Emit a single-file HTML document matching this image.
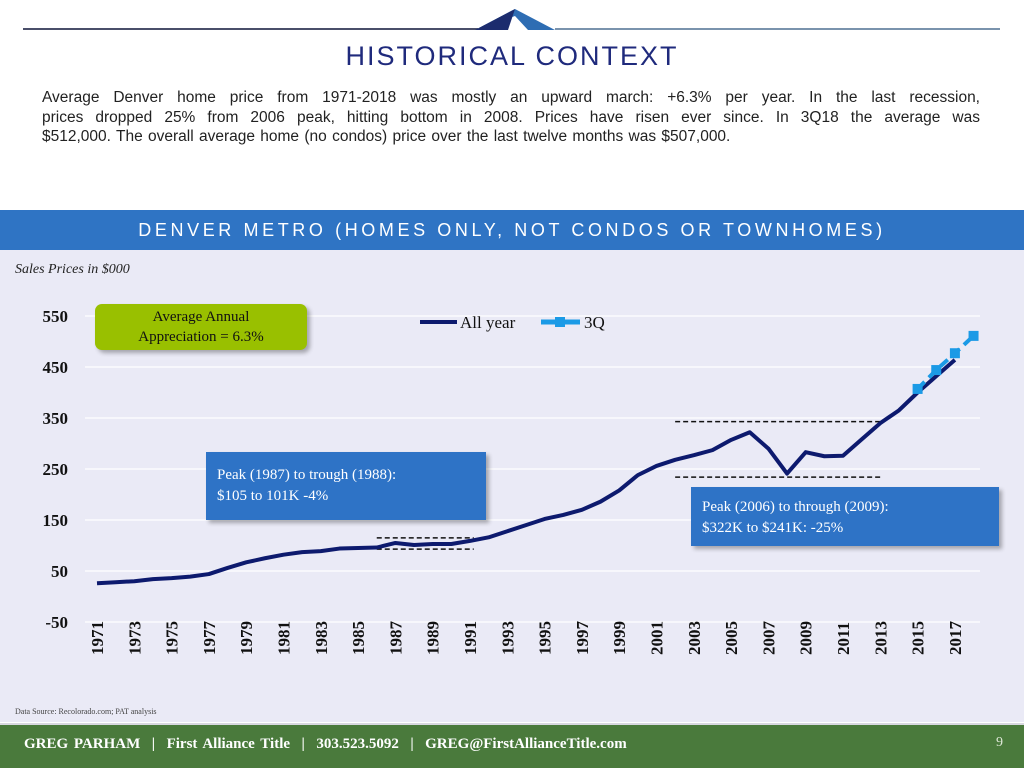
<!DOCTYPE html>
<html><head><meta charset="utf-8"><style>
body{margin:0;width:1024px;height:768px;position:relative;overflow:hidden;background:#fff;font-family:"Liberation Sans",sans-serif}
.abs{position:absolute}
.pl{display:block;text-align:justify;text-align-last:justify;white-space:nowrap}
</style></head><body>
<div class="abs" style="left:23px;top:28px;width:455px;height:2px;background:#4a4f6a"></div>
<div class="abs" style="left:555px;top:28px;width:445px;height:2px;background:#7a93ad"></div>
<svg class="abs" style="left:470px;top:6px" width="90" height="26"><polygon points="5,24 45,3 85,24 58,24 45,10" fill="#2e6db3"/><polygon points="5,24 45,3 38,24" fill="#1c2c6e"/></svg>
<div class="abs" style="left:0;width:1024px;top:41px;text-align:center;font-size:27px;letter-spacing:2px;color:#1f2a7c">HISTORICAL CONTEXT</div>
<div class="abs" style="left:42px;top:88px;width:938px;font-size:15.5px;line-height:19.5px;color:#222">
<span class="pl" style="white-space:normal">Average Denver home price from 1971-2018 was mostly an upward march: +6.3% per year. In the last recession,</span>
<span class="pl" style="white-space:normal">prices dropped 25% from 2006 peak, hitting bottom in 2008. Prices have risen ever since. In 3Q18 the average was</span>
<span style="display:block;word-spacing:1px">$512,000. The overall average home (no condos) price over the last twelve months was $507,000.</span></div>
<div class="abs" style="left:0;top:210px;width:1024px;height:40px;background:#2f74c4;color:#fff;font-size:18px;letter-spacing:3.6px;text-align:center;line-height:40px">DENVER METRO (HOMES ONLY, NOT CONDOS OR TOWNHOMES)</div>
<div class="abs" style="left:0;top:250px;width:1024px;height:472px;background:#eaeaf6"></div>
<div class="abs" style="left:15px;top:262px;font-family:'Liberation Serif',serif;font-style:italic;font-size:14px;color:#222">Sales Prices in $000</div>
<svg id="chart" class="abs" style="left:0;top:250px" width="1024" height="472"></svg>
<div class="abs" style="left:95px;top:304px;width:212px;height:46px;background:#99c000;border-radius:7px;box-shadow:3px 3px 4px rgba(0,0,0,0.3);text-align:center;font-family:'Liberation Serif',serif;font-size:15px;line-height:20px;color:#111;padding-top:3px;box-sizing:border-box">Average Annual<br>Appreciation = 6.3%</div>
<div class="abs" style="left:206px;top:452px;width:280px;height:68px;background:#2e73c6;box-shadow:3px 3px 4px rgba(0,0,0,0.3);font-family:'Liberation Serif',serif;font-size:15px;line-height:21px;color:#fff;padding:13px 0 0 11px;box-sizing:border-box">Peak (1987) to trough (1988):<br>$105 to 101K -4%</div>
<div class="abs" style="left:691px;top:487px;width:308px;height:59px;background:#2e73c6;box-shadow:3px 3px 4px rgba(0,0,0,0.3);font-family:'Liberation Serif',serif;font-size:15px;line-height:21px;color:#fff;padding:10px 0 0 11px;box-sizing:border-box">Peak (2006) to through (2009):<br>$322K to $241K: -25%</div>
<div class="abs" style="left:15px;top:707px;font-family:'Liberation Serif',serif;font-size:8px;color:#444">Data Source: Recolorado.com; PAT analysis</div>
<div class="abs" style="left:0;top:723px;width:1024px;height:45px;background:#4a7a3c;border-top:2px solid #d8d8e0;box-sizing:border-box"></div>
<div class="abs" style="left:24px;top:736px;font-family:'Liberation Serif',serif;font-weight:bold;font-size:15px;color:#fff;word-spacing:2px;white-space:pre">GREG PARHAM  |  First Alliance Title  |  303.523.5092  |  GREG@FirstAllianceTitle.com</div>
<div class="abs" style="left:996px;top:735px;font-family:'Liberation Serif',serif;font-size:14px;color:#dfe8d8">9</div>
<script>
const years=[1971,1972,1973,1974,1975,1976,1977,1978,1979,1980,1981,1982,1983,1984,1985,1986,1987,1988,1989,1990,1991,1992,1993,1994,1995,1996,1997,1998,1999,2000,2001,2002,2003,2004,2005,2006,2007,2008,2009,2010,2011,2012,2013,2014,2015,2016,2017];
const allYear=[26,28,30,34,36,39,44,56,67,75,82,87,89,94,95,96,105,101,103,103,109,116,128,140,152,160,170,186,208,238,256,268,277,287,307,322,290,241,283,275,276,308,340,365,400,432,464];
const q3Years=[2015,2016,2017,2018];
const q3Values=[407,444,477,511];
const yTicks=[-50,50,150,250,350,450,550];
const xTickYears=[1971,1973,1975,1977,1979,1981,1983,1985,1987,1989,1991,1993,1995,1997,1999,2001,2003,2005,2007,2009,2011,2013,2015,2017];
const svg=document.getElementById('chart');const NS='http://www.w3.org/2000/svg';
const X=y=>97+(y-1971)*18.65;
const Y=v=>372-(v+50)*0.51;
function mk(t,a){const e=document.createElementNS(NS,t);for(const k in a)e.setAttribute(k,a[k]);svg.appendChild(e);return e;}
yTicks.forEach(v=>{
 const g=mk('line',{x1:85,x2:980,y1:Y(v),y2:Y(v),stroke:'#fff','stroke-width':1.2});
 
 
 const t=mk('text',{x:68,y:Y(v)+6,'text-anchor':'end','font-family':'Liberation Serif, serif','font-size':17,'font-weight':'bold',fill:'#111'});t.textContent=v;
 
 
});
xTickYears.forEach(yr=>{
 const t=mk('text',{transform:`translate(${X(yr)+6},${405}) rotate(-90)`,'font-family':'Liberation Serif, serif','font-size':17,'font-weight':'bold',fill:'#111'});t.textContent=yr;
 
 
});
function dash(y1,y2,v){const l=mk('line',{x1:X(y1),x2:X(y2),y1:Y(v),y2:Y(v),stroke:'#111','stroke-width':1.5,'stroke-dasharray':'5,3'});
 
 }
dash(1986,1991.2,115);dash(1986,1991.2,93);dash(2002,2013.1,343);dash(2002,2013.1,234);
const p=mk('polyline',{points:years.map((y,i)=>X(y)+','+Y(allYear[i])).join(' '),fill:'none',stroke:'#0d1a6e','stroke-width':4,'stroke-linejoin':'round'});


const q=mk('polyline',{points:q3Years.map((y,i)=>X(y)+','+Y(q3Values[i])).join(' '),fill:'none',stroke:'#1b9ae6','stroke-width':4,'stroke-dasharray':'10,6'});


q3Years.forEach((y,i)=>{const r=mk('rect',{x:X(y)-5,y:Y(q3Values[i])-5,width:10,height:10,fill:'#1b9ae6'});
 
 });
const l1=mk('line',{x1:420,x2:457,y1:72,y2:72,stroke:'#0d1a6e','stroke-width':4});


const t1=mk('text',{x:460,y:78,'font-family':'Liberation Serif, serif','font-size':17,fill:'#111'});t1.textContent='All year';


const l2=mk('line',{x1:541,x2:580,y1:72,y2:72,stroke:'#1b9ae6','stroke-width':5});


const r2=mk('rect',{x:555,y:67,width:10,height:10,fill:'#1b9ae6'});


const t2=mk('text',{x:584,y:78,'font-family':'Liberation Serif, serif','font-size':17,fill:'#111'});t2.textContent='3Q';


</script>
</body></html>
